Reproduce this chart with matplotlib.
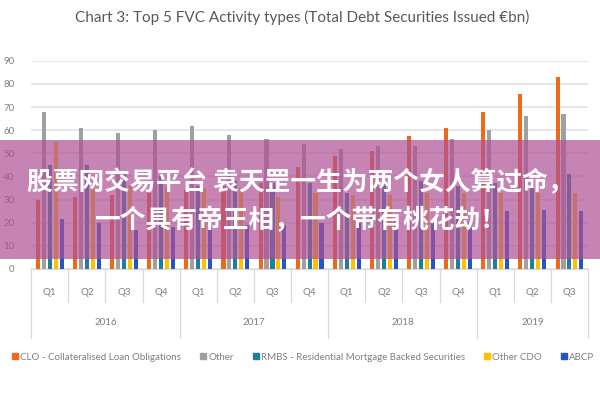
import numpy as np
import matplotlib
matplotlib.use("Agg")
import matplotlib.pyplot as plt
from matplotlib.patches import Rectangle
from matplotlib.lines import Line2D

plt.rcParams['font.family'] = ['Lato', 'DejaVu Sans']

# Data (€bn)
quarters = ['Q1', 'Q2', 'Q3', 'Q4'] * 3 + ['Q1', 'Q2', 'Q3']
years = ['2016', '2017', '2018', '2019']
quarters_per_year = [4, 4, 4, 3]

series_names = ['CLO - Collateralised Loan Obligations', 'Other',
                'RMBS - Residential Mortgage Backed Securities', 'Other CDO', 'ABCP']
clo = [30, 31, 32, 33, 34, 36, 37, 44, 49, 51, 57.5, 61, 68, 75.5, 83]
other = [68, 61, 59, 60, 62, 58, 56, 54, 52, 53, 53, 56, 60, 66, 67]
rmbs = [45, 45, 41, 40, 36, 38, 37, 37, 33, 38, 38, 36, 37, 38.5, 41]
other_cdo = [55, 35, 36, 36, 35, 35, 31, 33, 32, 32, 33, 33, 33, 33, 33]
abcp = [21.5, 20, 17, 18, 18, 19, 19, 20, 20, 21, 21, 20, 25, 25.5, 25]

colors = ['#EE6A1A', '#A0A0A0', '#1F7F9A', '#FFC000', '#2455C3']
text_grey = '#7F7F7F'

fig = plt.figure(figsize=(6, 4), dpi=100)
ax = fig.add_axes([0.052, 0.3275, 0.928, 0.5205])

x = np.arange(len(quarters))
step = 0.16
width = 0.11
all_series = [clo, other, rmbs, other_cdo, abcp]
for i, (vals, c) in enumerate(zip(all_series, colors)):
    ax.bar(x + (i - 2) * step, vals, width=width, color=c, zorder=3)

ax.set_xlim(-0.5, len(quarters) - 0.5)
ax.set_ylim(0, 90)
ax.set_yticks(range(0, 91, 10))
ax.yaxis.grid(True, color='#E3E3E3', linewidth=1.2, zorder=0)
ax.set_xticks([])
for s in ['left', 'right', 'top']:
    ax.spines[s].set_visible(False)
ax.spines['bottom'].set_color('#D9D9D9')
ax.tick_params(axis='y', length=0, labelsize=7, labelcolor=text_grey, pad=12)

# multi-level category axis
trans = ax.get_xaxis_transform()
for i, q in enumerate(quarters):
    ax.text(i, -0.115, q, transform=trans, ha='center', va='center',
            fontsize=7, color=text_grey)
bounds = np.concatenate([[0], np.cumsum(quarters_per_year)]) - 0.5
for b in np.arange(-0.5, len(quarters)):
    is_year = b in bounds
    ax.plot([b, b], [0, -0.33 if is_year else -0.16], transform=trans,
            color='#D9D9D9', linewidth=0.9, clip_on=False)
for k, yr in enumerate(years):
    mid = (bounds[k] + bounds[k + 1]) / 2
    ax.text(mid, -0.255, yr, transform=trans, ha='center', va='center',
            fontsize=7, color=text_grey)

fig.text(0.503, 0.957, 'Chart 3: Top 5 FVC Activity types (Total Debt Securities Issued \u20acbn)',
         ha='center', va='center', fontsize=11, color='#595959')

handles = [Line2D([0], [0], marker='s', linestyle='', color=c, markersize=4.5)
           for c in colors]
fig.legend(handles, series_names, loc='center', bbox_to_anchor=(0.505, 0.107),
           ncol=5, frameon=False, fontsize=7, labelcolor=text_grey,
           handletextpad=0.1, columnspacing=1.9, handlelength=0.8)

# overlay banner
fig.patches.append(Rectangle((0, 1 - 259 / 400), 1, 119 / 400, transform=fig.transFigure,
                             facecolor=(175 / 255, 80 / 255, 150 / 255), alpha=0.7,
                             zorder=10))
cjk = ['Noto Sans CJK SC', 'DejaVu Sans']
fig.text(0.5, 1 - 183 / 400, '股票网交易平台 袁天罡一生为两个女人算过命，',
         ha='center', va='center', fontsize=18.5, color='white', fontweight='bold',
         family=cjk, zorder=11)
fig.text(0.5, 1 - 221 / 400, '一个具有帝王相，一个带有桃花劫！',
         ha='center', va='center', fontsize=18.5, color='white', fontweight='bold',
         family=cjk, zorder=11)

fig.savefig('out.png', dpi=100)
